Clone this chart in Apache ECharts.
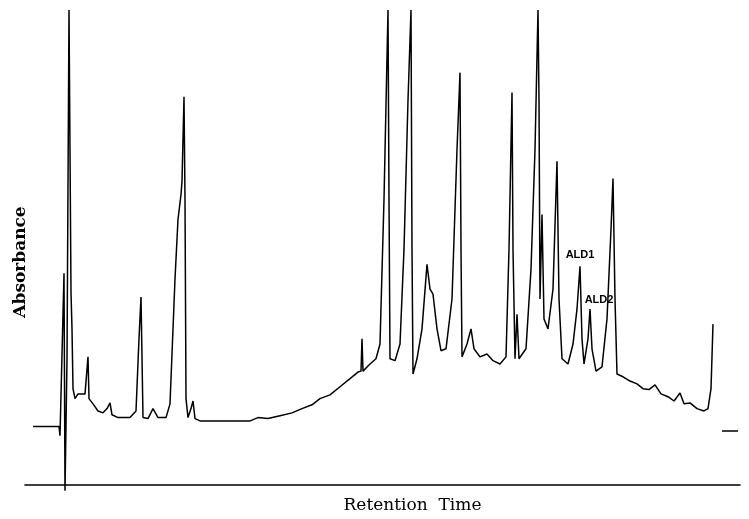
<!DOCTYPE html>
<html>
<head>
<meta charset="utf-8">
<script src="https://cdn.jsdelivr.net/npm/echarts@6/dist/echarts.min.js"></script>
<style>html,body{margin:0;padding:0;background:#fff}#c{width:749px;height:519px}</style>
</head>
<body>
<div id="c"></div>
<script>
// Retention time (arbitrary units) and absorbance (arbitrary units); null = pen gap
const retentionTime = [8,34,35,37,39,40,42,44,45,46,47,48,50,53,60,63,64,68,73,78,82,85,87,93,105,111,114,116,118,123,128,133,141,145,150,153,156,157,159,160,161,163,166,168,170,175,225,233,243,255,267,277,287,295,305,315,325,333,336,337,338,345,351,355,359,363,364,365,370,375,379,383,386,387,388,392,397,402,405,408,412,416,421,427,432,435,436,437,442,446,449,455,462,468,475,481,484,487,488,490,492,494,501,506,510,513,514,515,517,519,523,528,532,534,537,543,548,552,555,557,559,563,565,567,571,577,582,586,588,590,592,598,605,612,618,624,630,636,643,649,655,659,665,672,679,683,686,688,692,697,713];
const absorbance   = [12.2,12.2,10.3,10.3,44.5,-1.3,26.5,100,100,40.5,32.8,20.2,18.1,19.1,19.1,26.9,18.1,17.0,15.5,15.1,16.0,17.2,14.7,14.1,14.1,15.5,30.7,39.5,14.1,13.9,16.0,14.1,14.1,17.0,43.3,55.9,61.1,63.9,81.7,60.1,18.1,14.1,16.0,17.6,13.9,13.4,13.4,14.1,13.9,14.5,15.1,16.0,16.8,18.1,18.9,20.6,22.3,23.7,23.9,30.7,23.9,25.4,26.5,29.6,60.1,100,60.1,26.5,26.1,29.6,49.6,81.0,100,49.6,23.3,26.5,32.8,46.4,41.2,40.1,32.8,28.2,28.6,39.1,70.6,86.8,49.6,26.9,29.6,32.8,28.6,26.9,27.5,26.1,25.4,26.9,49.6,82.6,49.6,26.5,35.9,26.5,28.6,45.4,70.6,100,81.0,39.1,56.9,34.9,32.8,41.2,68.1,39.1,26.5,25.4,29.6,37.0,46.0,30.7,25.4,30.7,37.0,28.6,23.9,24.8,34.9,53.8,64.5,39.1,23.3,22.7,21.8,21.2,20.2,20.0,21.0,19.1,18.5,17.6,19.3,17.0,17.2,16.0,15.5,16.0,20.2,33.8,null,11.3,11.3];
const peakLabels = [
  {name: 'ALD1', time: 555, value: 46.0},
  {name: 'ALD2', time: 565, value: 37.0}
];
const xTitle = 'Retention  Time';
const yTitle = 'Absorbance';
</script>
<script>
const seriesData = retentionTime.map((t, i) => [t, absorbance[i] === null ? '-' : absorbance[i]]);
const chart = echarts.init(document.getElementById('c'), null, {renderer: 'canvas'});
chart.setOption({
  animation: false,
  backgroundColor: '#fff',
  grid: {left: 25, right: 9, top: 10, bottom: 23.5},
  xAxis: {
    type: 'value', min: 0, max: 715,
    axisLine: {show: true, onZero: true, lineStyle: {color: '#000', width: 1.6}},
    axisTick: {show: false}, axisLabel: {show: false}, splitLine: {show: false},
    name: xTitle, nameLocation: 'middle', nameGap: 3,
    nameTextStyle: {fontFamily: 'DejaVu Serif', fontSize: 17, color: '#000', padding: [0, 0, 0, 60]}
  },
  yAxis: {
    type: 'value', min: -2, max: 100,
    axisLine: {show: false}, axisTick: {show: false}, axisLabel: {show: false}, splitLine: {show: false},
    name: yTitle, nameLocation: 'middle', nameGap: -4, nameRotate: 90,
    nameTextStyle: {fontFamily: 'DejaVu Serif', fontWeight: 'bold', fontSize: 17, color: '#000', padding: [0, 20, 0, 0]}
  },
  series: [{
    type: 'line',
    data: seriesData,
    showSymbol: false,
    connectNulls: false,
    lineStyle: {color: '#000', width: 1.5},
    markPoint: {
      symbol: 'circle', symbolSize: 0,
      label: {show: true, color: '#000', fontFamily: 'Liberation Sans', fontWeight: 'bold', fontSize: 11,
               formatter: p => p.name},
      data: peakLabels.map((d, i) => ({
        name: d.name, coord: [d.time, d.value],
        label: {offset: i === 0 ? [0, -11] : [9, -9]}
      }))
    }
  }]
});
</script>
</body>
</html>
